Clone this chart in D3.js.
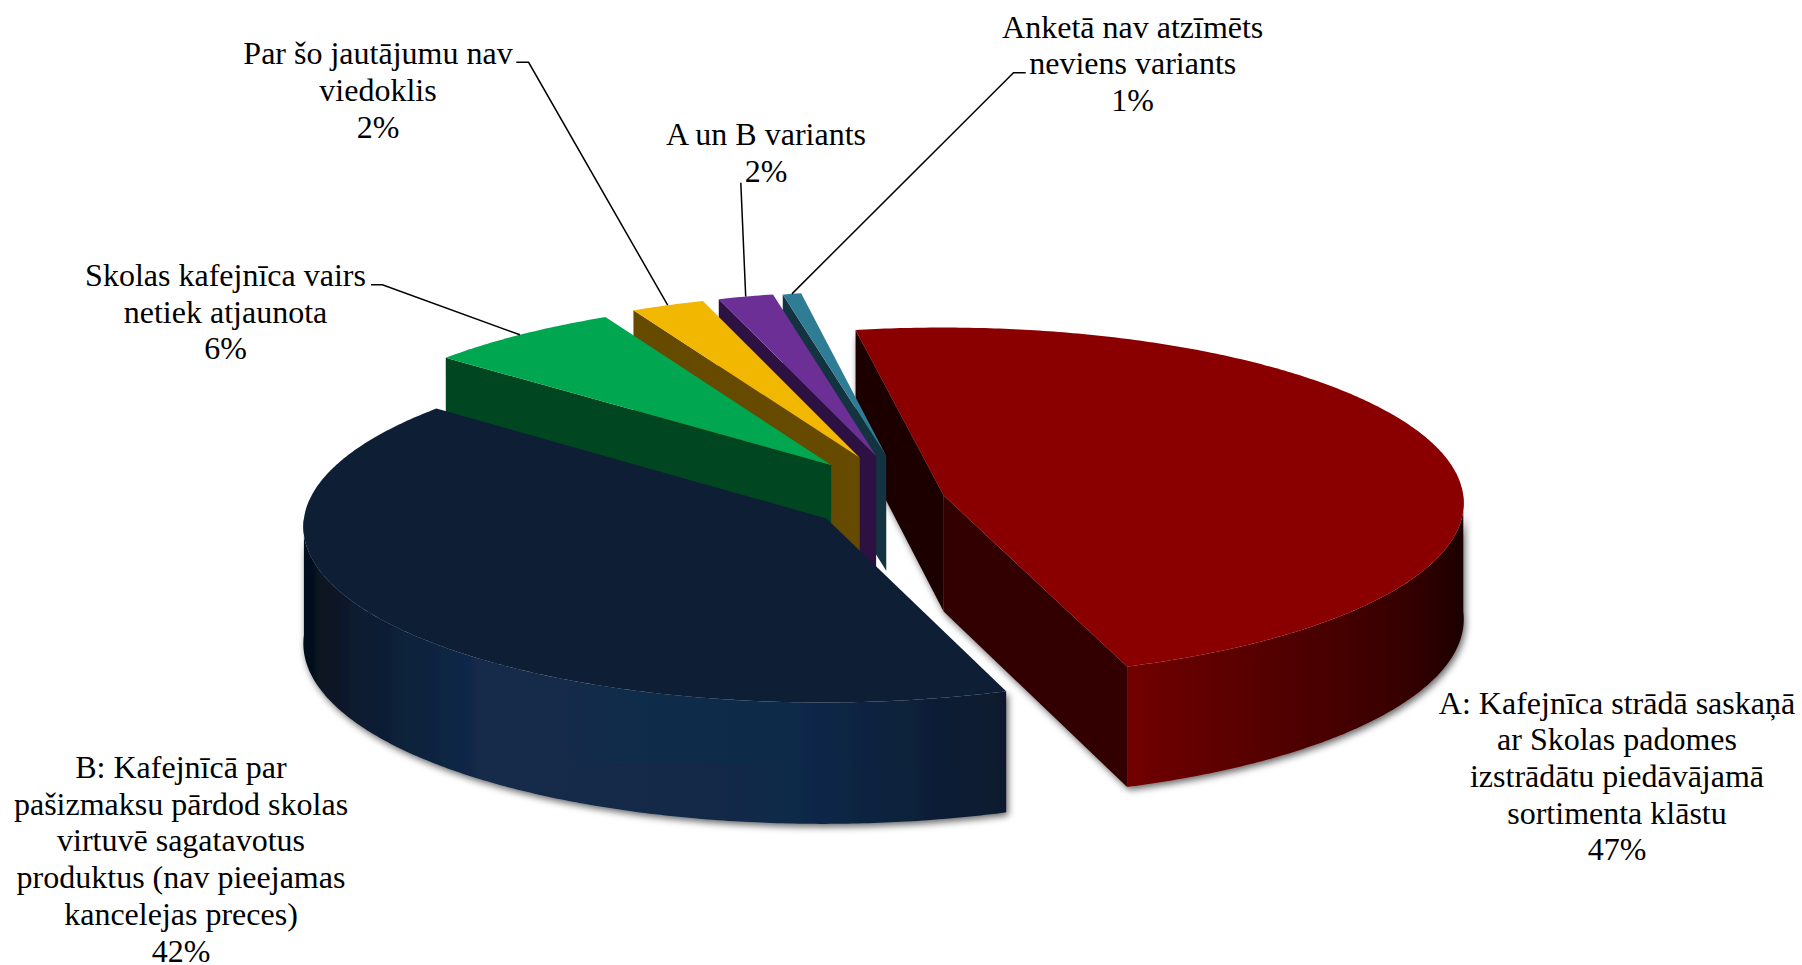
<!DOCTYPE html>
<html>
<head>
<meta charset="utf-8">
<script src="https://cdn.jsdelivr.net/npm/d3@7"></script>
<style>
  html, body { margin: 0; background: #fff; }
  svg { display: block; }
  text { font-family: "Liberation Serif", "Times New Roman", serif; font-size: 32px; fill: #000; }
</style>
</head>
<body>
<svg id="chart" width="1802" height="965"></svg>
<script>
// Data
const categories = [
  ["A: Kafejnīca strādā saskaņā", "ar Skolas padomes", "izstrādātu piedāvājamā", "sortimenta klāstu"],
  ["B: Kafejnīcā par", "pašizmaksu pārdod skolas", "virtuvē sagatavotus", "produktus (nav pieejamas", "kancelejas preces)"],
  ["Skolas kafejnīca vairs", "netiek atjaunota"],
  ["Par šo jautājumu nav", "viedoklis"],
  ["A un B variants"],
  ["Anketā nav atzīmēts", "neviens variants"],
];
const values = [47.3, 41.5, 6.4, 2.4, 1.8, 0.6];

// Slice look and position
const topColors = ["#8a0000", "#0d1e35", "#00a650", "#f2b700", "#6b2f96", "#2e7d95"];
const faceColors = ["#1e0000", null, "#004620", "#654a00", "#2d1142", "#12333f"];
const endFaceColor = "#330000";
const pull = [0.065, 0.198, 0.247, 0.255, 0.255, 0.25];

// Label layout: centre x and first baseline, plus optional elbow of the leader line
const labelX = [1617, 181, 225.5, 378, 766, 1132.7];
const labelY = [713.5, 778, 286, 64.3, 145.3, 37.7];
const leaderStart = [null, null, [371, 284.7], [516.3, 62.3], [740.8, 182.7], [1025.7, 72.7]];
const leaderElbow = [null, null, [382.4, 284.7], [528.6, 62.3], null, [1013.5, 72.7]];
const LINE_HEIGHT = 36.7;

// Projection of the tilted pie
const CENTER = [911, 498.5];
const RX = 520;
const RY = 175;
const PERSPECTIVE = 0.04;
const DEPTH = 116;
const ROTATION = -10 * Math.PI / 180;

const xScale = d3.scaleLinear().domain([-1, 1]).range([CENTER[0] - RX, CENTER[0] + RX]);
const yScale = d3.scaleLinear().domain([-1, 1]).range([CENTER[1] + RY, CENTER[1] - RY]);

const project = (wx, wy, z = 0) => {
  const w = 1 + PERSPECTIVE * wy;
  return [xScale(wx / w), yScale(wy / w) + (z * DEPTH) / w];
};

const arcs = d3.pie().sort(null).startAngle(ROTATION).endAngle(ROTATION + 2 * Math.PI)(values);

const slices = arcs.map((a, i) => {
  const mid = (a.startAngle + a.endAngle) / 2;
  return {
    i,
    start: a.startAngle,
    end: a.endAngle,
    mid,
    ox: pull[i] * Math.sin(mid),
    oy: pull[i] * Math.cos(mid),
  };
});

const rim = (s, theta, z = 0) => project(s.ox + Math.sin(theta), s.oy + Math.cos(theta), z);
const apex = (s, z = 0) => project(s.ox, s.oy, z);
const sampleAngles = (from, to) => {
  const n = Math.max(2, Math.ceil((to - from) / 0.01));
  return d3.range(n + 1).map((k) => from + ((to - from) * k) / n);
};

const line = d3.line();
const svg = d3.select("#chart");
const defs = svg.append("defs");

const shadow = defs.append("filter")
  .attr("id", "shadow")
  .attr("x", "-10%").attr("y", "-10%").attr("width", "120%").attr("height", "125%");
shadow.append("feDropShadow")
  .attr("dx", 2).attr("dy", 3)
  .attr("stdDeviation", 3.5)
  .attr("flood-color", "#000")
  .attr("flood-opacity", 0.6);

const addGradient = (id, x1, x2, stops) => {
  const g = defs.append("linearGradient")
    .attr("id", id)
    .attr("gradientUnits", "userSpaceOnUse")
    .attr("x1", x1).attr("x2", x2).attr("y1", 0).attr("y2", 0);
  stops.forEach(([o, c]) => g.append("stop").attr("offset", o).attr("stop-color", c));
};

const wallPath = (s, from, to) => {
  const angles = sampleAngles(from, to);
  const upper = angles.map((t) => rim(s, t, 0));
  const lower = angles.map((t) => rim(s, t, 1)).reverse();
  return line(upper.concat(lower)) + "Z";
};

const topPath = (s) => {
  const pts = sampleAngles(s.start, s.end).map((t) => rim(s, t, 0));
  return line([apex(s)].concat(pts)) + "Z";
};

const facePath = (s, theta) =>
  line([apex(s), rim(s, theta), rim(s, theta, 1), apex(s, 1)]) + "Z";

const drawSlice = (s) => {
  const g = svg.append("g");
  const body = g.append("g");
  if (s.i < 2) body.attr("filter", "url(#shadow)");

  // cut faces turned to the viewer
  if (Math.sin(s.start) < 0 && faceColors[s.i]) {
    body.append("path").attr("d", facePath(s, s.start)).attr("fill", faceColors[s.i]);
  }
  if (Math.sin(s.end) > 0 && s.i === 0) {
    body.append("path").attr("d", facePath(s, s.end)).attr("fill", endFaceColor);
  }

  // outer wall, only the part that faces the viewer
  const from = Math.max(s.start, Math.PI / 2);
  const to = Math.min(s.end, 1.5 * Math.PI);
  if (to > from) {
    const fill = s.i === 0 ? "url(#wallRed)" : s.i === 1 ? "url(#wallNavy)" : faceColors[s.i];
    body.append("path").attr("d", wallPath(s, from, to)).attr("fill", fill);
  }

  g.append("path").attr("d", topPath(s)).attr("fill", topColors[s.i]);
};

const [red, navy] = slices;
addGradient("wallRed", rim(red, red.end)[0], rim(red, Math.PI / 2)[0], [
  [0, "#700000"], [0.3, "#5c0000"], [0.6, "#480000"], [0.85, "#330000"], [1, "#1c0000"],
]);
addGradient("wallNavy", rim(navy, 1.5 * Math.PI)[0], rim(navy, navy.start)[0], [
  [0, "#050f1a"], [0.08, "#0c1c30"], [0.25, "#12294a"], [0.7, "#11294a"], [1, "#08192c"],
]);

// back to front: the red slice, then the thin ones, the navy slice last
[0, 5, 4, 3, 2, 1].forEach((i) => drawSlice(slices[i]));

// Leader lines end on the rim at the middle of their slice
slices.forEach((s) => {
  if (!leaderStart[s.i]) return;
  const pts = [leaderStart[s.i]];
  if (leaderElbow[s.i]) pts.push(leaderElbow[s.i]);
  pts.push(rim(s, s.mid));
  svg.append("path")
    .attr("d", line(pts))
    .attr("fill", "none")
    .attr("stroke", "#000")
    .attr("stroke-width", 1.5);
});

// Labels
categories.forEach((lines, i) => {
  const percent = Math.round(values[i]) + "%";
  lines.concat(percent).forEach((t, k) => {
    svg.append("text")
      .attr("x", labelX[i])
      .attr("y", labelY[i] + k * LINE_HEIGHT)
      .attr("text-anchor", "middle")
      .text(t);
  });
});
</script>
</body>
</html>
